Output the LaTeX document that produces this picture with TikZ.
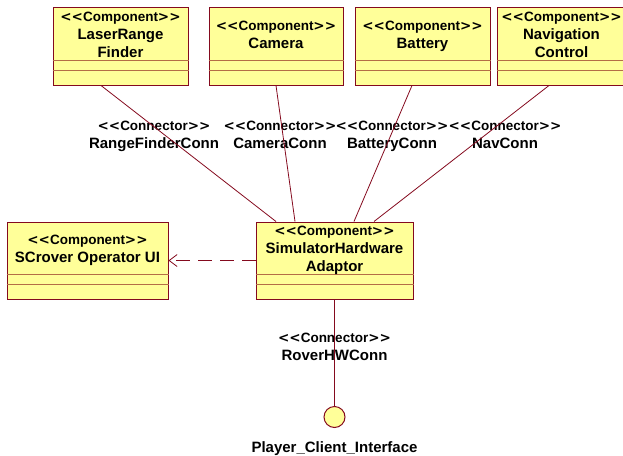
\documentclass[tikz,border=0pt]{standalone}
\usepackage{fontspec}
\setmainfont{Liberation Sans}
\newfontfamily\bracketfont{DejaVu Sans}
\usetikzlibrary{arrows.meta}
\definecolor{compfill}{RGB}{255,255,153}
\definecolor{compline}{RGB}{132,10,30}
\definecolor{sepline}{RGB}{180,110,70}
\newcommand{\stereo}[1]{{\fontsize{13.5}{18}\selectfont{\bracketfont<<}#1{\bracketfont>>}}}

\begin{document}
\begin{tikzpicture}[x=1pt,y=-1pt,
	comp_box/.style={draw=compline,fill=compfill,line width=1pt,inner sep=0pt},
	comp_title/.style={align=center,font=\fontsize{15}{18}\selectfont\bfseries},
	conn_label/.style={align=center,font=\fontsize{15}{18}\selectfont\bfseries},
	sep_line/.style={draw=sepline,line width=1.3pt},
	conn_line/.style={draw=compline,line width=0.8pt}]

		\useasboundingbox (0,0) rectangle (623,455);

		% components
		\node[comp_box,minimum width=135,minimum height=78] (laser) at (120.5,46) {};
		\node[comp_box,minimum width=134,minimum height=78] (camera) at (276,46) {};
		\node[comp_box,minimum width=135,minimum height=78] (battery) at (422.5,46) {};
		\node[comp_box,minimum width=132,minimum height=78] (nav) at (563,46) {};
		\node[comp_box,minimum width=161,minimum height=77] (scrover) at (87.5,260.5) {};
		\node[comp_box,minimum width=157,minimum height=77] (sim) at (334.5,260.5) {};

		\foreach \n in {laser,camera,battery,nav}{
			\draw[sep_line] ([yshift=-54]\n.north west) -- ([yshift=-54]\n.north east);
			\draw[sep_line] ([yshift=-64]\n.north west) -- ([yshift=-64]\n.north east);
		}
		\foreach \n in {scrover,sim}{
			\draw[sep_line] ([yshift=-53]\n.north west) -- ([yshift=-53]\n.north east);
			\draw[sep_line] ([yshift=-63]\n.north west) -- ([yshift=-63]\n.north east);
		}

		\node[comp_title] (laser_name) at ([yshift=-29]laser.north) {\strut\stereo{Component}\\\strut LaserRange\\\strut Finder};
		\node[comp_title] (camera_name) at ([yshift=-29]camera.north) {\strut\stereo{Component}\\\strut Camera};
		\node[comp_title] (battery_name) at ([yshift=-29]battery.north) {\strut\stereo{Component}\\\strut Battery};
		\node[comp_title] (nav_name) at ([xshift=-1.5,yshift=-29]nav.north) {\strut\stereo{Component}\\\strut Navigation\\\strut Control};
		\node[comp_title] (scrover_name) at ([yshift=-28.5]scrover.north) {\strut\stereo{Component}\\\strut SCrover Operator UI};
		\node[comp_title] (sim_name) at ([yshift=-28.5]sim.north) {\strut\stereo{Component}\\\strut SimulatorHardware\\\strut Adaptor};

		% interface
		\node[comp_box,circle,minimum size=21] (iface) at (334.5,417) {};
		\node[conn_label] (iface_name) at (334.5,448.5) {\strut Player\_Client\_Interface};

		% connector labels
		\node[conn_label] (rf_conn) at (154,135.5) {\strut\stereo{Connector}\\\strut RangeFinderConn};
		\node[conn_label] (cam_conn) at (280,135.5) {\strut\stereo{Connector}\\\strut CameraConn};
		\node[conn_label] (bat_conn) at (392,135.5) {\strut\stereo{Connector}\\\strut BatteryConn};
		\node[conn_label] (nav_conn) at (505,135.5) {\strut\stereo{Connector}\\\strut NavConn};
		\node[conn_label] (hw_conn) at (334.5,348) {\strut\stereo{Connector}\\\strut RoverHWConn};

		\draw[conn_line] ([xshift=-19.5]laser.south) -- ([xshift=-58.5]sim.north);
		\draw[conn_line] (camera.south) -- ([xshift=-39.5]sim.north);
		\draw[conn_line] ([xshift=-10.5]battery.south) -- ([xshift=19.5]sim.north);
		\draw[conn_line] ([xshift=-14]nav.south) -- ([xshift=39.5]sim.north);
		\draw[conn_line] (sim.south) -- (iface.north);
		\draw[conn_line,dash pattern=on 14pt off 8pt,-{Straight Barb[length=8pt,width=12pt]}] (sim.west) -- (scrover.east);
		\end{tikzpicture}
\end{document}
